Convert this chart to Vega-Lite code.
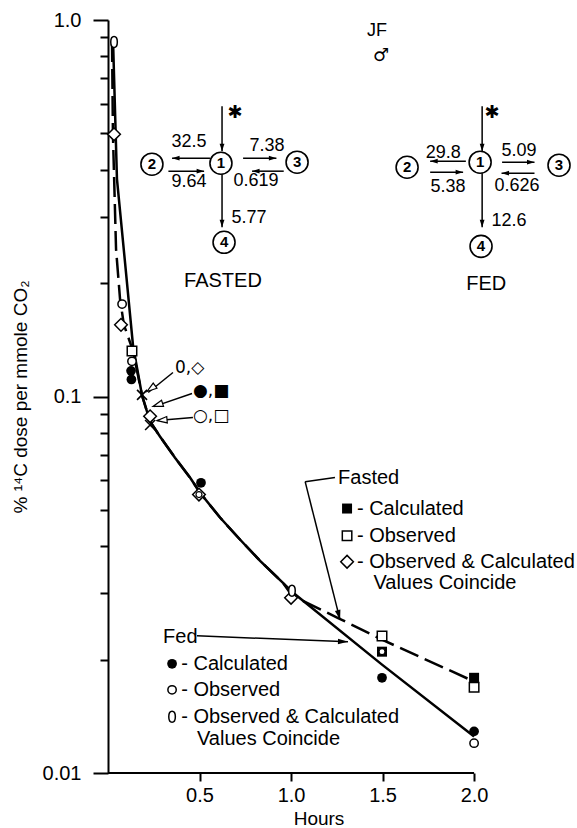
{
  "$schema": "https://vega.github.io/schema/vega-lite/v6.json",
  "width": 421,
  "height": 753,
  "autosize": "none",
  "padding": {"left": 108, "top": 20, "right": 48, "bottom": 55},
  "config": {
    "font": "Liberation Sans",
    "view": {"stroke": null},
    "axis": {"domainColor": "black", "tickColor": "black", "labelColor": "black", "titleColor": "black", "grid": false, "titleFontWeight": "normal", "labelFontSize": 20, "titleFontSize": 19, "domainWidth": 2, "tickWidth": 2}
  },
  "datasets": {
    "fedcurve": [
      {"t": 0.027, "v": 0.9}, {"t": 0.049, "v": 0.378}, {"t": 0.093, "v": 0.227}, {"t": 0.137, "v": 0.136},
      {"t": 0.186, "v": 0.1006}, {"t": 0.23, "v": 0.0858}, {"t": 0.284, "v": 0.0783}, {"t": 0.366, "v": 0.0688},
      {"t": 0.448, "v": 0.0609}, {"t": 0.503, "v": 0.0555}, {"t": 0.612, "v": 0.0477}, {"t": 0.721, "v": 0.0417},
      {"t": 0.831, "v": 0.0366}, {"t": 0.956, "v": 0.032}, {"t": 1.005, "v": 0.0303}, {"t": 1.497, "v": 0.0194},
      {"t": 2.0, "v": 0.0125}
    ],
    "fastcurve": [
      {"t": 0.022, "v": 0.874}, {"t": 0.027, "v": 0.497}, {"t": 0.044, "v": 0.246}, {"t": 0.066, "v": 0.181},
      {"t": 0.087, "v": 0.155}, {"t": 0.137, "v": 0.132}, {"t": 0.186, "v": 0.1006}, {"t": 0.23, "v": 0.0858},
      {"t": 0.284, "v": 0.0783}, {"t": 0.366, "v": 0.0688}, {"t": 0.448, "v": 0.0609}, {"t": 0.503, "v": 0.0555},
      {"t": 0.612, "v": 0.0477}, {"t": 0.721, "v": 0.0417}, {"t": 0.831, "v": 0.0366}, {"t": 0.956, "v": 0.032},
      {"t": 1.005, "v": 0.0296}, {"t": 1.257, "v": 0.0258}, {"t": 1.497, "v": 0.0226}, {"t": 2.0, "v": 0.0175}
    ],
    "axisline": [{"t": 0, "v": 0.01, "t2": 2.0, "v2": 0.01}],
    "segs": [
      {"t": 0.623, "v": 0.59, "t2": 0.623, "v2": 0.4483},
      {"t": 0.557, "v": 0.4295, "t2": 0.35, "v2": 0.4295},
      {"t": 0.33, "v": 0.3967, "t2": 0.525, "v2": 0.3967},
      {"t": 0.738, "v": 0.4295, "t2": 0.92, "v2": 0.4295},
      {"t": 0.96, "v": 0.3967, "t2": 0.787, "v2": 0.3967},
      {"t": 0.623, "v": 0.3895, "t2": 0.623, "v2": 0.2815},
      {"t": 2.044, "v": 0.59, "t2": 2.044, "v2": 0.4483},
      {"t": 1.955, "v": 0.4217, "t2": 1.76, "v2": 0.4217},
      {"t": 1.76, "v": 0.3942, "t2": 1.94, "v2": 0.3942},
      {"t": 2.153, "v": 0.4191, "t2": 2.33, "v2": 0.4191},
      {"t": 2.33, "v": 0.3918, "t2": 2.15, "v2": 0.3918},
      {"t": 2.044, "v": 0.3918, "t2": 2.044, "v2": 0.2815},
      {"t": 1.24, "v": 0.0609, "t2": 1.077, "v2": 0.0594},
      {"t": 1.077, "v": 0.0594, "t2": 1.268, "v2": 0.0255},
      {"t": 0.486, "v": 0.02314, "t2": 1.311, "v2": 0.0223},
      {"t": 0.355, "v": 0.1158, "t2": 0.22, "v2": 0.1025},
      {"t": 0.459, "v": 0.1019, "t2": 0.25, "v2": 0.094},
      {"t": 0.464, "v": 0.0879, "t2": 0.27, "v2": 0.0863}
    ],
    "heads": [
      {"t": 0.623, "v": 0.4483, "dir": 90, "kind": "f"},
      {"t": 0.35, "v": 0.4295, "dir": 180, "kind": "f"},
      {"t": 0.525, "v": 0.3967, "dir": 0, "kind": "f"},
      {"t": 0.92, "v": 0.4295, "dir": 0, "kind": "f"},
      {"t": 0.787, "v": 0.3967, "dir": 180, "kind": "f"},
      {"t": 0.623, "v": 0.2815, "dir": 90, "kind": "f"},
      {"t": 2.044, "v": 0.4483, "dir": 90, "kind": "f"},
      {"t": 1.76, "v": 0.4217, "dir": 180, "kind": "f"},
      {"t": 1.94, "v": 0.3942, "dir": 0, "kind": "f"},
      {"t": 2.33, "v": 0.4191, "dir": 0, "kind": "f"},
      {"t": 2.15, "v": 0.3918, "dir": 180, "kind": "f"},
      {"t": 2.044, "v": 0.2815, "dir": 90, "kind": "f"},
      {"t": 1.268, "v": 0.0255, "dir": 76, "kind": "p"},
      {"t": 1.311, "v": 0.0223, "dir": 2, "kind": "p"},
      {"t": 0.213, "v": 0.1031, "dir": 144, "kind": "h"},
      {"t": 0.246, "v": 0.0941, "dir": 162, "kind": "h"},
      {"t": 0.268, "v": 0.0863, "dir": 175, "kind": "h"}
    ],
    "pts": [
      {"t": 0.033, "v": 0.497, "sym": "dia"},
      {"t": 0.071, "v": 0.155, "sym": "dia"},
      {"t": 0.23, "v": 0.0886, "sym": "dia"},
      {"t": 0.497, "v": 0.0549, "sym": "dia"},
      {"t": 1.0, "v": 0.0292, "sym": "dia"},
      {"t": 1.306, "v": 0.0364, "sym": "dia"},
      {"t": 0.131, "v": 0.132, "sym": "osq"},
      {"t": 1.497, "v": 0.0231, "sym": "osq"},
      {"t": 2.0, "v": 0.0169, "sym": "osq"},
      {"t": 1.306, "v": 0.0427, "sym": "osq"},
      {"t": 1.497, "v": 0.021, "sym": "fsq"},
      {"t": 2.0, "v": 0.0179, "sym": "fsq"},
      {"t": 1.306, "v": 0.0504, "sym": "fsq"},
      {"t": 0.126, "v": 0.117, "sym": "fcirc"},
      {"t": 0.128, "v": 0.111, "sym": "fcirc"},
      {"t": 0.508, "v": 0.059, "sym": "fcirc"},
      {"t": 1.497, "v": 0.0179, "sym": "fcirc"},
      {"t": 2.0, "v": 0.0129, "sym": "fcirc"},
      {"t": 0.35, "v": 0.0195, "sym": "fcirc"},
      {"t": 0.077, "v": 0.176, "sym": "ocirc"},
      {"t": 0.131, "v": 0.124, "sym": "ocirc"},
      {"t": 2.0, "v": 0.012, "sym": "ocirc"},
      {"t": 0.35, "v": 0.01663, "sym": "ocirc"},
      {"t": 0.497, "v": 0.0549, "sym": "ocs"},
      {"t": 1.497, "v": 0.021, "sym": "ocs"},
      {"t": 0.033, "v": 0.874, "sym": "zero"},
      {"t": 1.005, "v": 0.0305, "sym": "zero"},
      {"t": 0.35, "v": 0.0141, "sym": "zero"},
      {"t": 0.186, "v": 0.101, "sym": "x"},
      {"t": 0.23, "v": 0.084, "sym": "x"},
      {"t": 0.617, "v": 0.4166, "sym": "node"},
      {"t": 0.24, "v": 0.414, "sym": "node"},
      {"t": 1.033, "v": 0.4191, "sym": "node"},
      {"t": 0.634, "v": 0.2568, "sym": "node"},
      {"t": 2.033, "v": 0.4191, "sym": "node"},
      {"t": 1.634, "v": 0.4064, "sym": "node"},
      {"t": 2.464, "v": 0.4115, "sym": "node"},
      {"t": 2.038, "v": 0.2505, "sym": "node"}
    ],
    "txt": [
      {"t": 1.257, "v": 0.0609, "label": "Fasted", "kind": "lg"},
      {"t": 1.36, "v": 0.0504, "label": "- Calculated", "kind": "lg"},
      {"t": 1.36, "v": 0.0427, "label": "- Observed", "kind": "lg"},
      {"t": 1.36, "v": 0.0364, "label": "- Observed  &  Calculated", "kind": "lg"},
      {"t": 1.45, "v": 0.032, "label": "Values  Coincide", "kind": "lg"},
      {"t": 0.301, "v": 0.023, "label": "Fed", "kind": "lg"},
      {"t": 0.4, "v": 0.0195, "label": "- Calculated", "kind": "lg"},
      {"t": 0.4, "v": 0.01663, "label": "- Observed", "kind": "lg"},
      {"t": 0.4, "v": 0.0141, "label": "- Observed  &  Calculated", "kind": "lg"},
      {"t": 0.486, "v": 0.01231, "label": "Values  Coincide", "kind": "lg"},
      {"t": 0.366, "v": 0.1193, "label": "0,◇", "kind": "an"},
      {"t": 0.464, "v": 0.1034, "label": "●,■", "kind": "an"},
      {"t": 0.464, "v": 0.0886, "label": "○,□", "kind": "an"},
      {"t": 0.443, "v": 0.4736, "label": "32.5", "kind": "dg"},
      {"t": 0.443, "v": 0.371, "label": "9.64", "kind": "dg"},
      {"t": 0.869, "v": 0.4623, "label": "7.38", "kind": "dg"},
      {"t": 0.809, "v": 0.374, "label": "0.619", "kind": "dg"},
      {"t": 0.77, "v": 0.2975, "label": "5.77", "kind": "dg"},
      {"t": 1.831, "v": 0.4429, "label": "29.8", "kind": "dg"},
      {"t": 1.858, "v": 0.3597, "label": "5.38", "kind": "dg"},
      {"t": 2.246, "v": 0.4483, "label": "5.09", "kind": "dg"},
      {"t": 2.235, "v": 0.3619, "label": "0.626", "kind": "dg"},
      {"t": 2.191, "v": 0.292, "label": "12.6", "kind": "dg"},
      {"t": 1.47, "v": 0.935, "label": "JF", "kind": "dg"},
      {"t": 0.617, "v": 0.4166, "label": "1", "kind": "nd"},
      {"t": 0.24, "v": 0.414, "label": "2", "kind": "nd"},
      {"t": 1.033, "v": 0.4191, "label": "3", "kind": "nd"},
      {"t": 0.634, "v": 0.2568, "label": "4", "kind": "nd"},
      {"t": 2.033, "v": 0.4191, "label": "1", "kind": "nd"},
      {"t": 1.634, "v": 0.4064, "label": "2", "kind": "nd"},
      {"t": 2.464, "v": 0.4115, "label": "3", "kind": "nd"},
      {"t": 2.038, "v": 0.2505, "label": "4", "kind": "nd"},
      {"t": 0.628, "v": 0.2022, "label": "FASTED", "kind": "big"},
      {"t": 2.066, "v": 0.1986, "label": "FED", "kind": "big"},
      {"t": 0.694, "v": 0.566, "label": "✱", "kind": "sym"},
      {"t": 2.098, "v": 0.566, "label": "✱", "kind": "sym"},
      {"t": 1.492, "v": 0.802, "label": "♂", "kind": "sym"}
    ]
  },
  "encoding": {
    "x": {
      "field": "t", "type": "quantitative",
      "scale": {"domain": [0, 2.3], "nice": false, "zero": false},
      "axis": {"values": [0.5, 1, 1.5, 2], "format": ".1f", "domain": false, "tickSize": 8, "labelPadding": 4, "title": "Hours", "titlePadding": 4, "labelFlush": false}
    },
    "y": {
      "field": "v", "type": "quantitative",
      "scale": {"type": "log", "domain": [0.01, 1], "nice": false},
      "axis": {
        "values": [0.01, 0.02, 0.03, 0.04, 0.05, 0.06, 0.07, 0.08, 0.09, 0.1, 0.2, 0.3, 0.4, 0.5, 0.6, 0.7, 0.8, 0.9, 1],
        "labelExpr": "datum.value == 1 ? '1.0' : datum.value == 0.1 ? '0.1' : datum.value == 0.01 ? '0.01' : ''",
        "tickSize": {"condition": {"test": "datum.value == 1 || datum.value == 0.1 || datum.value == 0.01", "value": 15}, "value": 8},
        "labelPadding": 12, "labelOverlap": false,
        "title": "% ¹⁴C dose per mmole CO₂", "titlePadding": 12
      }
    }
  },
  "layer": [
    {"data": {"name": "fedcurve"}, "mark": {"type": "line", "color": "black", "strokeWidth": 2.5}},
    {"data": {"name": "fastcurve"}, "mark": {"type": "line", "color": "black", "strokeWidth": 2.5, "strokeDash": [20, 7]}},
    {"data": {"name": "axisline"}, "mark": {"type": "rule", "color": "black", "strokeWidth": 2}, "encoding": {"x2": {"field": "t2"}, "y2": {"field": "v2"}}},
    {"data": {"name": "segs"}, "mark": {"type": "rule", "color": "black", "strokeWidth": 1.5}, "encoding": {"x2": {"field": "t2"}, "y2": {"field": "v2"}}},
    {"data": {"name": "pts"}, "transform": [{"filter": "datum.sym == 'dia'"}], "mark": {"type": "point", "shape": "diamond", "size": 160, "filled": true, "fill": "white", "stroke": "black", "strokeWidth": 1.5, "opacity": 1}},
    {"data": {"name": "pts"}, "transform": [{"filter": "datum.sym == 'osq'"}], "mark": {"type": "point", "shape": "square", "size": 90, "filled": true, "fill": "white", "stroke": "black", "strokeWidth": 1.5, "opacity": 1}},
    {"data": {"name": "pts"}, "transform": [{"filter": "datum.sym == 'fsq'"}], "mark": {"type": "point", "shape": "square", "size": 100, "filled": true, "color": "black", "opacity": 1}},
    {"data": {"name": "pts"}, "transform": [{"filter": "datum.sym == 'fcirc'"}], "mark": {"type": "point", "shape": "circle", "size": 95, "filled": true, "color": "black", "opacity": 1}},
    {"data": {"name": "pts"}, "transform": [{"filter": "datum.sym == 'ocirc'"}], "mark": {"type": "point", "shape": "circle", "size": 70, "filled": true, "fill": "white", "stroke": "black", "strokeWidth": 1.5, "opacity": 1}},
    {"data": {"name": "pts"}, "transform": [{"filter": "datum.sym == 'ocs'"}], "mark": {"type": "point", "shape": "circle", "size": 36, "filled": true, "fill": "white", "stroke": "black", "strokeWidth": 1.2, "opacity": 1}},
    {"data": {"name": "pts"}, "transform": [{"filter": "datum.sym == 'zero'"}], "mark": {"type": "point", "shape": "M0,-1C0.8,-1 0.8,1 0,1C-0.8,1 -0.8,-1 0,-1Z", "size": 120, "filled": true, "fill": "white", "stroke": "black", "strokeWidth": 1.5, "opacity": 1}},
    {"data": {"name": "pts"}, "transform": [{"filter": "datum.sym == 'x'"}], "mark": {"type": "point", "shape": "M-1,-1L1,1M-1,1L1,-1", "size": 100, "filled": false, "stroke": "black", "strokeWidth": 1.6, "opacity": 1}},
    {"data": {"name": "pts"}, "transform": [{"filter": "datum.sym == 'node'"}], "mark": {"type": "point", "shape": "circle", "size": 484, "filled": true, "fill": "white", "stroke": "black", "strokeWidth": 1.6, "opacity": 1}},
    {"data": {"name": "heads"}, "transform": [{"filter": "datum.kind == 'f'"}], "mark": {"type": "point", "shape": "M0,0L-2.5,-0.8L-2.5,0.8Z", "size": 36, "filled": true, "color": "black", "opacity": 1}, "encoding": {"angle": {"field": "dir", "type": "quantitative", "scale": null}}},
    {"data": {"name": "heads"}, "transform": [{"filter": "datum.kind == 'p'"}], "mark": {"type": "point", "shape": "M0,0L-2.5,-0.7L-2.5,0.7Z", "size": 64, "filled": true, "color": "black", "opacity": 1}, "encoding": {"angle": {"field": "dir", "type": "quantitative", "scale": null}}},
    {"data": {"name": "heads"}, "transform": [{"filter": "datum.kind == 'h'"}], "mark": {"type": "point", "shape": "M0,0L-2.5,-0.8L-2.5,0.8Z", "size": 64, "filled": true, "fill": "white", "stroke": "black", "strokeWidth": 1.2, "opacity": 1}, "encoding": {"angle": {"field": "dir", "type": "quantitative", "scale": null}}},
    {"data": {"name": "txt"}, "transform": [{"filter": "datum.kind == 'lg'"}], "mark": {"type": "text", "align": "left", "baseline": "middle", "fontSize": 20, "color": "black"}, "encoding": {"text": {"field": "label"}}},
    {"data": {"name": "txt"}, "transform": [{"filter": "datum.kind == 'an'"}], "mark": {"type": "text", "align": "left", "baseline": "middle", "fontSize": 17, "font": "DejaVu Sans", "color": "black"}, "encoding": {"text": {"field": "label"}}},
    {"data": {"name": "txt"}, "transform": [{"filter": "datum.kind == 'dg'"}], "mark": {"type": "text", "align": "center", "baseline": "middle", "fontSize": 18, "color": "black"}, "encoding": {"text": {"field": "label"}}},
    {"data": {"name": "txt"}, "transform": [{"filter": "datum.kind == 'nd'"}], "mark": {"type": "text", "align": "center", "baseline": "middle", "fontSize": 15, "fontWeight": "bold", "color": "black"}, "encoding": {"text": {"field": "label"}}},
    {"data": {"name": "txt"}, "transform": [{"filter": "datum.kind == 'big'"}], "mark": {"type": "text", "align": "center", "baseline": "middle", "fontSize": 20, "color": "black"}, "encoding": {"text": {"field": "label"}}},
    {"data": {"name": "txt"}, "transform": [{"filter": "datum.kind == 'sym'"}], "mark": {"type": "text", "align": "center", "baseline": "middle", "fontSize": 18, "font": "DejaVu Sans", "color": "black"}, "encoding": {"text": {"field": "label"}}}
  ]
}
